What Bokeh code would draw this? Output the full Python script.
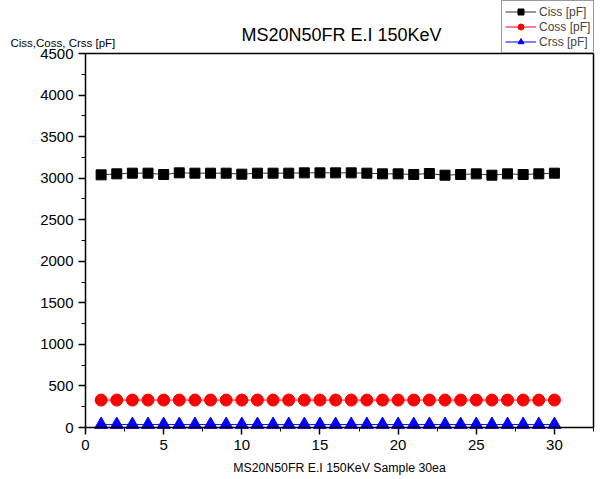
from bokeh.plotting import figure
from bokeh.models import (Range1d, SingleIntervalTicker, Legend, LegendItem, Label, ColumnDataSource)
from bokeh.embed import file_html
from bokeh.resources import INLINE

title_text = "MS20N50FR E.I 150KeV"
x_label = "MS20N50FR E.I 150KeV Sample 30ea"
y_label = "Ciss,Coss, Crss [pF]"

samples = list(range(1, 31))
ciss = [3040, 3052, 3060, 3060, 3044, 3064, 3060, 3060, 3060, 3048,
        3060, 3060, 3060, 3064, 3064, 3064, 3064, 3060, 3052, 3052,
        3044, 3056, 3036, 3044, 3052, 3036, 3052, 3044, 3052, 3060]
coss = [330] * 30
crss = [35] * 30

X_MAX = 32.5
Y_MAX = 4500

FONT = "Liberation Sans"

# canvas geometry (pixels)
W, H = 600, 476
AX_LEFT, AX_RIGHT, AX_TOP, AX_BOTTOM = 85, 593, 53, 427
px_x = (AX_RIGHT - AX_LEFT) / X_MAX
px_y = (AX_BOTTOM - AX_TOP) / Y_MAX
x_range = Range1d(-AX_LEFT / px_x, (W - AX_LEFT) / px_x)
y_range = Range1d(-(H - AX_BOTTOM) / px_y, AX_BOTTOM / px_y)

p = figure(width=W, height=H, output_backend="svg", toolbar_location=None,
           x_range=x_range, y_range=y_range,
           min_border=0, min_border_left=0, min_border_right=0,
           min_border_top=0, min_border_bottom=0)
p.title.text = ""
p.grid.visible = False
p.outline_line_color = None
p.background_fill_color = "white"
p.border_fill_color = "white"

for ax in (p.xaxis[0], p.yaxis[0]):
    ax.fixed_location = 0
    ax.axis_line_width = 1.5
    ax.axis_line_color = "black"
    ax.major_tick_line_color = "black"
    ax.minor_tick_line_color = "black"
    ax.major_tick_line_width = 1.5
    ax.minor_tick_line_width = 1
    ax.major_tick_out = 7
    ax.major_tick_in = 0
    ax.minor_tick_out = 4
    ax.minor_tick_in = 0
    ax.major_label_standoff = 5
    ax.major_label_text_font = FONT
    ax.major_label_text_font_size = "15px"
    ax.major_label_text_color = "black"

p.xaxis.bounds = (0, X_MAX)
p.yaxis.bounds = (0, Y_MAX)
p.xaxis.ticker = SingleIntervalTicker(interval=5, num_minor_ticks=2)
p.yaxis.ticker = SingleIntervalTicker(interval=500, num_minor_ticks=2)
p.xaxis.axis_label = x_label
p.xaxis.axis_label_text_font = FONT
p.xaxis.axis_label_text_font_size = "12.3px"
p.xaxis.axis_label_text_font_style = "normal"
p.xaxis.axis_label_text_color = "black"
p.xaxis.axis_label_standoff = 8

# frame box (top and right edges)
p.segment(x0=[0, X_MAX], y0=[Y_MAX, 0], x1=[X_MAX, X_MAX], y1=[Y_MAX, Y_MAX],
          line_color="black", line_width=1.5)

src = ColumnDataSource(dict(x=samples, ciss=ciss, coss=coss, crss=crss))

l1 = p.line("x", "ciss", source=src, line_color="#333333", line_width=1)
m1 = p.scatter("x", "ciss", source=src, marker="square", size=10, fill_color="black", line_color="black")
l2 = p.line("x", "coss", source=src, line_color="red", line_width=1)
m2 = p.scatter("x", "coss", source=src, marker="circle", size=12, fill_color="red", line_color="red")
l3 = p.line("x", "crss", source=src, line_color="blue", line_width=1)
m3 = p.scatter("x", "crss", source=src, marker="triangle", size=13, fill_color="blue", line_color="blue")

legend = Legend(items=[LegendItem(label="Ciss [pF]", renderers=[l1, m1]),
                       LegendItem(label="Coss [pF]", renderers=[l2, m2]),
                       LegendItem(label="Crss [pF]", renderers=[l3, m3])],
                location=(501, H - 53), orientation="vertical",
                label_text_font=FONT, label_text_font_size="12px",
                glyph_width=31, glyph_height=15, spacing=0, padding=3, margin=0,
                label_standoff=3, label_height=15,
                border_line_color="#333333", border_line_width=1,
                background_fill_alpha=1)
p.add_layout(legend, "center")

title_lab = Label(x=341, y=H - 34, x_units="screen", y_units="screen", text=title_text,
                  text_align="center", text_baseline="alphabetic",
                  text_font=FONT, text_font_size="18px", text_color="black")
p.add_layout(title_lab)

ylab = Label(x=10, y=H - 42, x_units="screen", y_units="screen", text=y_label,
             text_align="left", text_baseline="alphabetic",
             text_font=FONT, text_font_size="11.5px", text_color="black")
p.add_layout(ylab)

open("out.html", "w").write(file_html(p, INLINE))
